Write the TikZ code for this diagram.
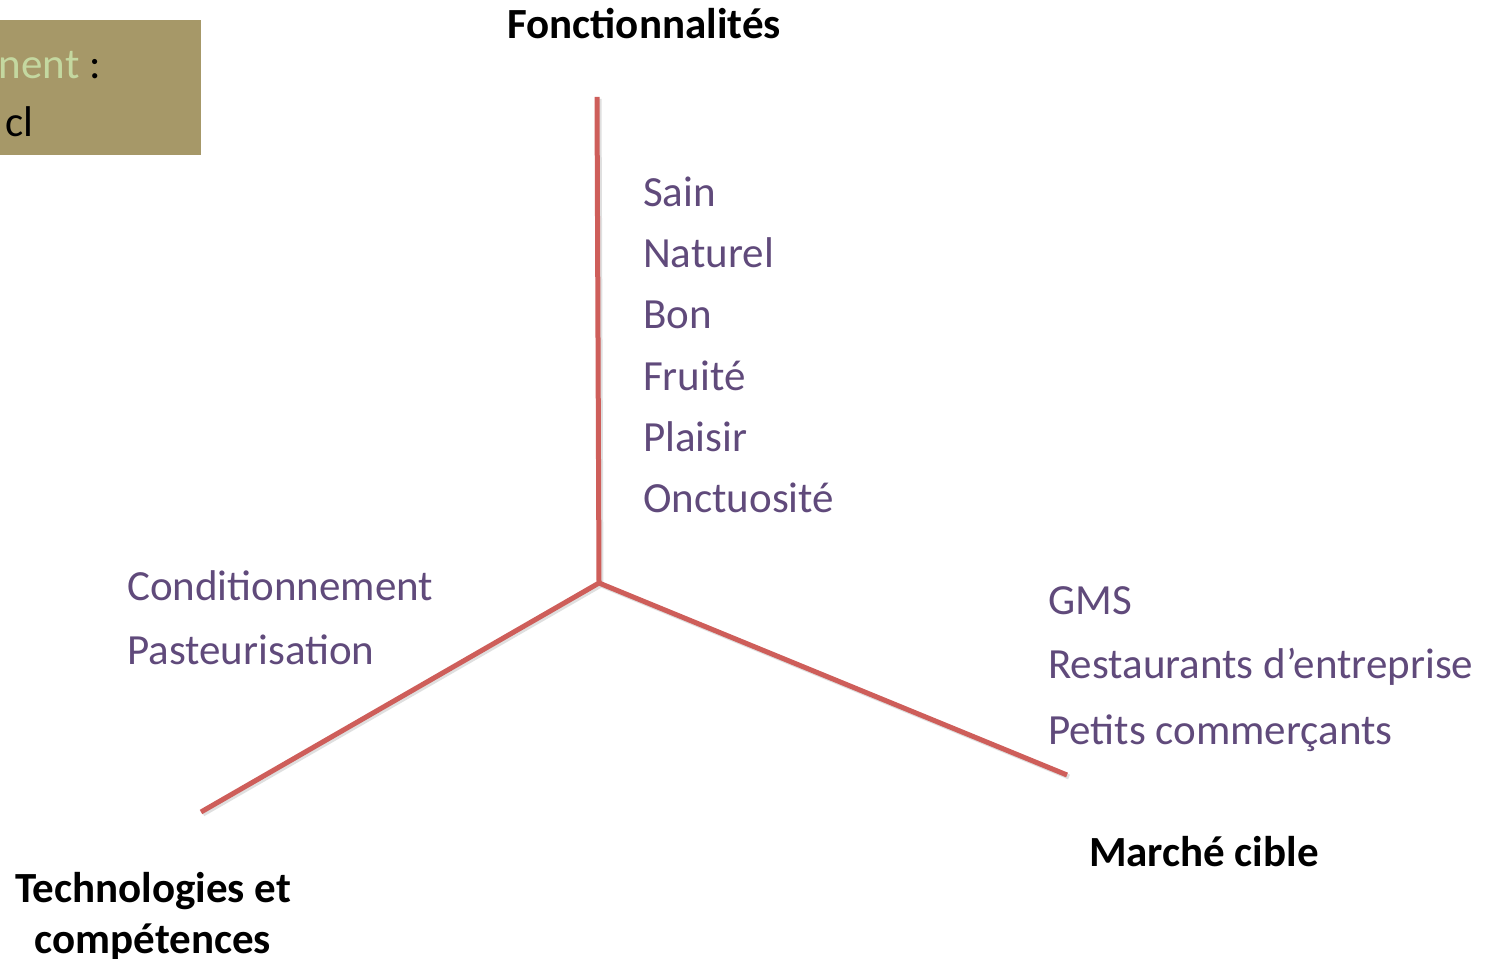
\documentclass[tikz,border=0pt]{standalone}
\usepackage{fontspec}
\setmainfont{Carlito}
\definecolor{axisred}{RGB}{206,94,90}
\definecolor{itempurple}{RGB}{96,74,123}
\definecolor{boxolive}{RGB}{166,152,104}
\definecolor{boxgreen}{RGB}{196,216,160}
\begin{document}
\begin{tikzpicture}[x=1pt,y=1pt,
  item/.style={inner sep=0pt,anchor=base west,text=itempurple,font=\fontsize{43}{51}\selectfont},
  axislabel/.style={inner sep=0pt,font=\fontsize{43}{51}\selectfont\bfseries,text=black,align=center},
  axisline/.style={draw=axisred,line width=5pt},
  axisshadow/.style={draw=black!25,line width=5pt,opacity=0.5}]
\useasboundingbox (0,0) rectangle (1495,958);
% top-left clipped box
\begin{scope}
\clip (0,803) rectangle (201,938);
\fill[boxolive] (0,803) rectangle (201,938);
\node[inner sep=0pt,anchor=base east,font=\fontsize{43}{51}\selectfont] (boxa) at (101,879) {\textcolor{boxgreen}{nent} :};
\node[inner sep=0pt,anchor=base east,font=\fontsize{43}{51}\selectfont] (boxb) at (34,821) {cl};
\end{scope}
% axes
\coordinate (c) at (599,375);
\coordinate (top) at (597,861);
\coordinate (left) at (201,146);
\coordinate (right) at (1067,183);
\draw[axisshadow] ([shift={(2,-2)}]top) -- ([shift={(2,-2)}]c);
\draw[axisshadow] ([shift={(2,-2)}]left) -- ([shift={(2,-2)}]c) -- ([shift={(2,-2)}]right);
\draw[axisline] (top) -- (c);
\draw[axisline,line join=miter] (left) -- (c) -- (right);
% axis labels
\node[axislabel] (fonc) at (644,934) {Fonctionnalités};
\node[axislabel] (marche) at (1204,106) {Marché cible};
\node[axislabel] (techno) at (153,42) {Technologies et\\compétences};
% functionalities
\node[item] (f1) at (643,751) {Sain};
\node[item] (f2) at (643,690) {Naturel};
\node[item] (f3) at (643,629) {Bon};
\node[item] (f4) at (643,567) {Fruité};
\node[item] (f5) at (643,506) {Plaisir};
\node[item] (f6) at (643,445) {Onctuosité};
% technologies
\node[item] (t1) at (127,357) {Conditionnement};
\node[item] (t2) at (127,293) {Pasteurisation};
% market
\node[item] (m1) at (1048,343) {GMS};
\node[item] (m2) at (1048,279) {Restaurants d’entreprise};
\node[item] (m3) at (1048,213) {Petits commerçants};
\end{tikzpicture}
\end{document}
